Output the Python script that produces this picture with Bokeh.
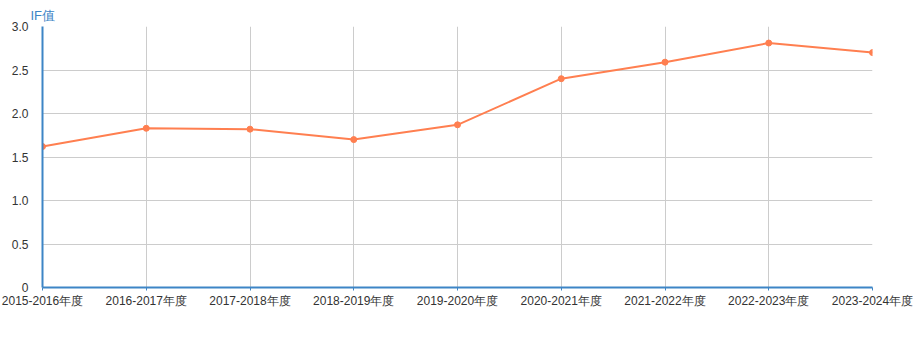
from bokeh.plotting import figure
from bokeh.models import FixedTicker, Range1d, Title, NumeralTickFormatter
from bokeh.embed import file_html
from bokeh.resources import INLINE

categories = ["2015-2016年度", "2016-2017年度", "2017-2018年度", "2018-2019年度",
              "2019-2020年度", "2020-2021年度", "2021-2022年度", "2022-2023年度",
              "2023-2024年度"]
if_values = [1.62, 1.83, 1.82, 1.70, 1.87, 2.40, 2.59, 2.81, 2.70]
y_ticks = [0, 0.5, 1.0, 1.5, 2.0, 2.5, 3.0]

xs = list(range(len(categories)))

p = figure(width=915, height=338, output_backend="svg", toolbar_location=None,
           x_range=Range1d(0, len(categories) - 1), y_range=Range1d(0, 3.0),
           min_border_left=42, min_border_right=43, min_border_top=26,
           min_border_bottom=51)
p.outline_line_color = None
p.background_fill_color = "white"
p.border_fill_color = "white"

line_color = "#ff7f50"
p.line(xs, if_values, line_color=line_color, line_width=2)
p.scatter(xs, if_values, size=6, fill_color=line_color, line_color=line_color)

axis_blue = "#3d85c6"
label_font = "Liberation Sans"

# x axis
p.xaxis.ticker = FixedTicker(ticks=xs)
p.xaxis.major_label_overrides = {i: c for i, c in enumerate(categories)}
p.xaxis.axis_line_color = axis_blue
p.xaxis.axis_line_width = 2
p.xaxis.major_tick_line_color = axis_blue
p.xaxis.major_tick_out = 3
p.xaxis.major_tick_in = 0
p.xaxis.minor_tick_line_color = None
p.xaxis.major_label_text_font = label_font
p.xaxis.major_label_text_font_size = "12px"
p.xaxis.major_label_text_color = "#333333"
p.xaxis.major_label_standoff = 3

# y axis
p.yaxis.ticker = FixedTicker(ticks=y_ticks)
p.yaxis.formatter = NumeralTickFormatter(format="0.0")
p.yaxis.major_label_overrides = {0: "0"}
p.yaxis.axis_line_color = axis_blue
p.yaxis.axis_line_width = 2
p.yaxis.major_tick_line_color = None
p.yaxis.minor_tick_line_color = None
p.yaxis.major_label_text_font = label_font
p.yaxis.major_label_text_font_size = "12px"
p.yaxis.major_label_text_color = "#333333"
p.yaxis.major_label_standoff = 8

p.xgrid.ticker = FixedTicker(ticks=xs)
p.xgrid.grid_line_color = "#cccccc"
p.ygrid.ticker = FixedTicker(ticks=y_ticks)
p.ygrid.grid_line_color = "#cccccc"

p.add_layout(Title(text="IF值", text_color=axis_blue, text_font=label_font,
                   text_font_size="13px", text_font_style="normal",
                   align="left", offset=-12, standoff=7), "above")

open("out.html", "w").write(file_html(p, INLINE))
